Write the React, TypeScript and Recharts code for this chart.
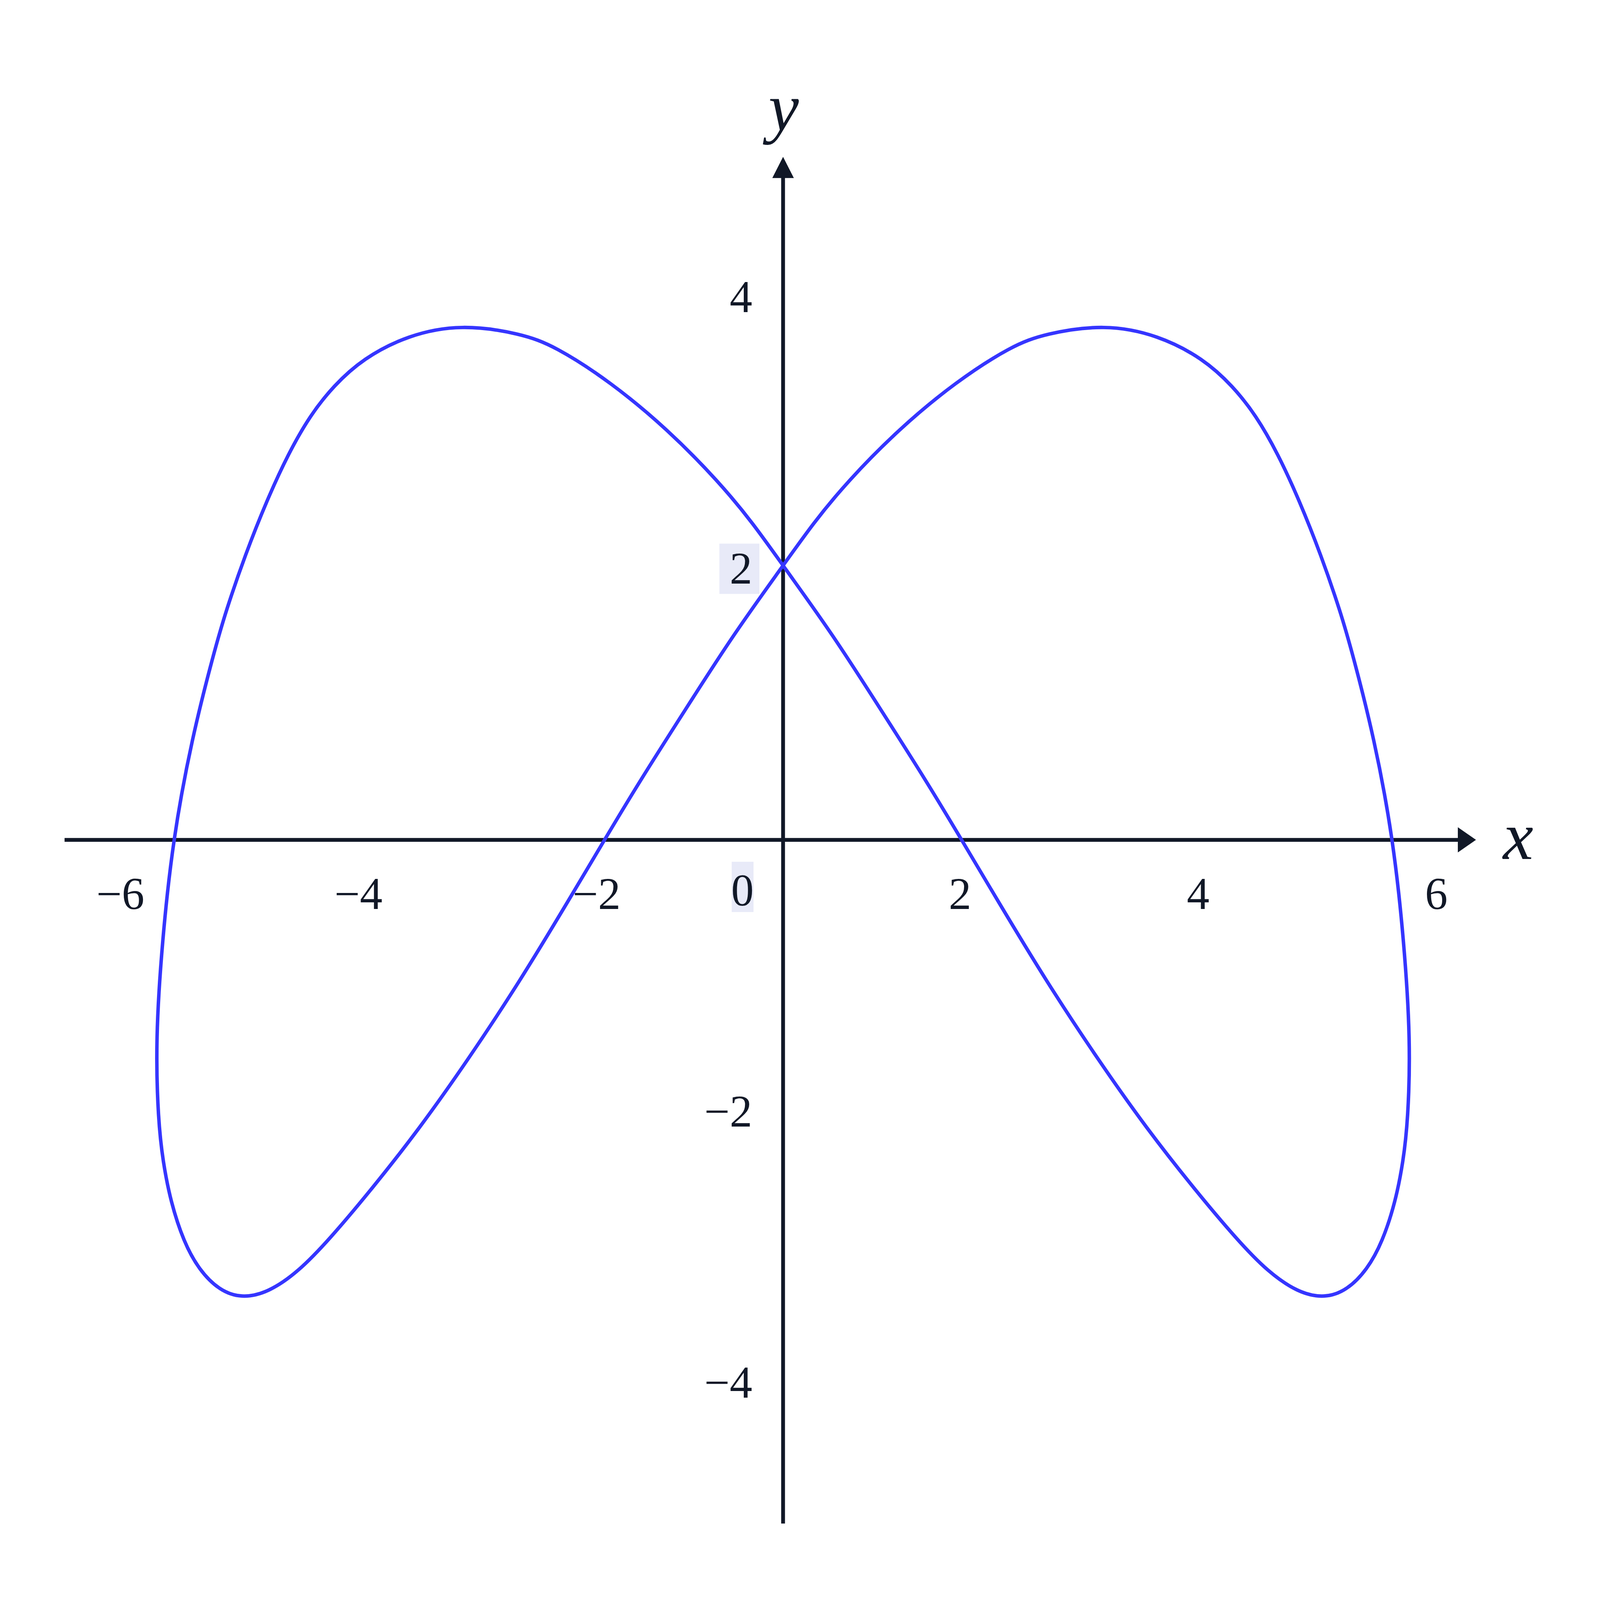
import React from 'react';
import { LineChart, Line, XAxis, YAxis, ReferenceLine, ReferenceDot } from 'recharts';

// Closed parametric curve: points (plot units), in drawing order.
// Right lobe first (starting at the crossing on the y-axis), then the left lobe.
const curveX = [
  0, 0.25, 0.54, 0.97, 1.45, 1.92, 2.2, 2.7, 3.15, 3.53, 3.775, 3.97, 4.155, 4.336, 4.517, 4.68, 4.78, 4.965,
  5.125, 5.215, 5.27, 5.248, 5.208, 5.143, 5.033, 4.905, 4.738, 4.55, 4.326, 4.074, 3.81, 3.455, 3.056, 2.651,
  2.218, 1.79, 1.5, 1.19, 0.837, 0.419, 0,
  -0.25, -0.54, -0.97, -1.45, -1.92, -2.2, -2.7, -3.15, -3.53, -3.775, -3.97, -4.155, -4.336, -4.517, -4.68, -4.78,
  -4.965, -5.125, -5.215, -5.27, -5.248, -5.208, -5.143, -5.033, -4.905, -4.738, -4.55, -4.326, -4.074, -3.81,
  -3.455, -3.056, -2.651, -2.218, -1.79, -1.5, -1.19, -0.837, -0.419,
];
const curveY = [
  2.02, 2.33, 2.64, 3.025, 3.375, 3.64, 3.73, 3.8, 3.72, 3.545, 3.345, 3.13, 2.846, 2.5, 2.1, 1.684, 1.38, 0.75, 0,
  -0.75, -1.48, -2.07, -2.37, -2.667, -2.963, -3.167, -3.317, -3.378, -3.336, -3.185, -2.944, -2.574, -2.13, -1.627,
  -1.053, -0.43, 0, 0.452, 0.937, 1.511, 2.02,
  2.33, 2.64, 3.025, 3.375, 3.64, 3.73, 3.8, 3.72, 3.545, 3.345, 3.13, 2.846, 2.5, 2.1, 1.684, 1.38, 0.75, 0, -0.75,
  -1.48, -2.07, -2.37, -2.667, -2.963, -3.167, -3.317, -3.378, -3.336, -3.185, -2.944, -2.574, -2.13, -1.627,
  -1.053, -0.43, 0, 0.452, 0.937, 1.511,
];

const xTicks = [-6, -4, -2, 2, 4, 6];
const yTicks = [-4, -2, 2, 4];
const highlightedYTicks = [2];
const xDomain = [-6.5, 6.5];
const yDomain = [-5.2, 5.2];
const xAxisExtent = [-6.034, 5.819];
const yAxisExtent = [-5.037, 5.032];

const data = curveX.map((x, i) => ({ x, y: curveY[i] }));

const AXIS_COLOR = '#111827';
const CURVE_COLOR = '#3535ff';
const BOX_COLOR = '#e8eaf8';
const FONT = "'Liberation Serif', 'DejaVu Serif', serif";

// design size of the reference
const BASE_W = 5200;
const BASE_H = 4456;

const fmt = (v: number) => (v < 0 ? '\u2212' + Math.abs(v) : String(v));

export default function App() {
  const W = typeof window !== 'undefined' && window.innerWidth ? window.innerWidth : BASE_W;
  const H = typeof window !== 'undefined' && window.innerHeight ? window.innerHeight : BASE_H;
  const kx = W / BASE_W;
  const ky = H / BASE_H;
  const kf = Math.sqrt(kx * ky);

  const tickFont = 136 * kf;
  const nameFont = 205 * kf;
  const axisW = 11.5 * kf;

  const XAxisLine = (p: any) => {
    const { x1, y1, x2 } = p;
    const len = 59 * kx;
    const half = 35 * ky;
    return (
      <g>
        <line x1={x1} y1={y1} x2={x2 - len + 2} y2={y1} stroke={AXIS_COLOR} strokeWidth={axisW} />
        <polygon points={`${x2},${y1} ${x2 - len},${y1 - half} ${x2 - len},${y1 + half}`} fill={AXIS_COLOR} />
      </g>
    );
  };

  const YAxisLine = (p: any) => {
    const { x1, y1, y2 } = p;
    const len = 59 * ky;
    const half = 35 * kx;
    return (
      <g>
        <line x1={x1} y1={y1} x2={x1} y2={y2 + len - 2} stroke={AXIS_COLOR} strokeWidth={axisW} />
        <polygon points={`${x1},${y2} ${x1 - half},${y2 + len} ${x1 + half},${y2 + len}`} fill={AXIS_COLOR} />
      </g>
    );
  };

  const makeXTickLabel = (v: number) => (p: any) => {
    const shift = (v < 0 ? 168 : -199) * kx;
    return (
      <text x={p.cx + shift} y={p.cy + 193 * ky} textAnchor="middle" fontFamily={FONT} fontSize={tickFont} fill={AXIS_COLOR}>
        {fmt(v)}
      </text>
    );
  };

  const makeYTickLabel = (v: number) => (p: any) => {
    const boxed = highlightedYTicks.includes(v);
    return (
      <g>
        {boxed && <rect x={p.cx - 207 * kx} y={p.cy - 69 * ky} width={130 * kx} height={140 * ky} fill={BOX_COLOR} />}
        <text x={p.cx - 100 * kx} y={p.cy + 42 * ky} textAnchor="end" fontFamily={FONT} fontSize={tickFont} fill={AXIS_COLOR}>
          {fmt(v)}
        </text>
      </g>
    );
  };

  const OriginLabel = (p: any) => (
    <g>
      <rect x={p.cx - 167 * kx} y={p.cy + 61 * ky} width={71 * kx} height={140 * ky} fill={BOX_COLOR} />
      <text x={p.cx - 132 * kx} y={p.cy + 183 * ky} textAnchor="middle" fontFamily={FONT} fontSize={tickFont} fill={AXIS_COLOR}>
        0
      </text>
    </g>
  );

  const XName = (p: any) => (
    <text x={p.cx + 137 * kx} y={p.cy + 53 * ky} textAnchor="middle" fontFamily={FONT} fontStyle="italic" fontSize={nameFont} fill={AXIS_COLOR}>
      x
    </text>
  );

  const YName = (p: any) => (
    <text x={p.cx + 2 * kx} y={p.cy - 75 * ky} textAnchor="middle" fontFamily={FONT} fontStyle="italic" fontSize={nameFont} fill={AXIS_COLOR}>
      y
    </text>
  );

  return (
    <div style={{ position: 'absolute', left: 0, top: 0, width: W, height: H, background: '#ffffff' }}>
      <LineChart
        width={W}
        height={H}
        data={data}
        margin={{ top: 373.4 * ky, right: 139.5 * kx, bottom: 151.4 * ky, left: 29.5 * kx }}
      >
        <XAxis dataKey="x" type="number" domain={xDomain} allowDataOverflow hide />
        <YAxis type="number" domain={yDomain} allowDataOverflow hide />
        <ReferenceLine segment={[{ x: xAxisExtent[0], y: 0 }, { x: xAxisExtent[1], y: 0 }]} shape={XAxisLine} ifOverflow="visible" />
        <ReferenceLine segment={[{ x: 0, y: yAxisExtent[0] }, { x: 0, y: yAxisExtent[1] }]} shape={YAxisLine} ifOverflow="visible" />
        {xTicks.map((v) => (
          <ReferenceDot key={'xt' + v} x={v} y={0} r={0} ifOverflow="visible" shape={makeXTickLabel(v)} />
        ))}
        {yTicks.map((v) => (
          <ReferenceDot key={'yt' + v} x={0} y={v} r={0} ifOverflow="visible" shape={makeYTickLabel(v)} />
        ))}
        <ReferenceDot x={0} y={0} r={0} ifOverflow="visible" shape={OriginLabel} />
        <ReferenceDot x={xAxisExtent[1]} y={0} r={0} ifOverflow="visible" shape={XName} />
        <ReferenceDot x={0} y={yAxisExtent[1]} r={0} ifOverflow="visible" shape={YName} />
        <Line
          dataKey="y"
          type="basisClosed"
          stroke={CURVE_COLOR}
          strokeWidth={10.5 * kf}
          dot={false}
          activeDot={false}
          isAnimationActive={false}
        />
      </LineChart>
    </div>
  );
}
